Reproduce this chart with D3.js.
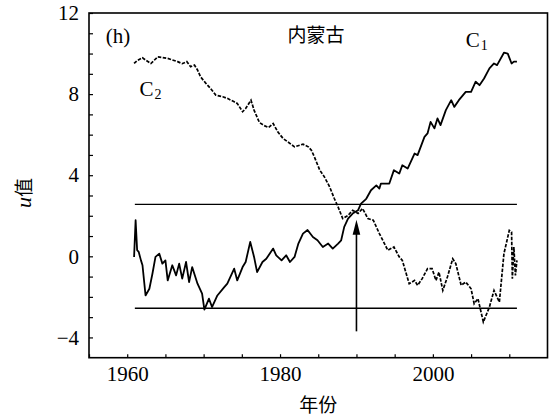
<!DOCTYPE html>
<html><head><meta charset="utf-8">
<script src="https://cdn.jsdelivr.net/npm/d3@7"></script>
<style>
body{margin:0;background:#fff;}
svg{display:block;}
text{fill:#000;}
.serif{font-family:'Liberation Serif','Times New Roman',Tinos,'Nimbus Roman',serif;}
.cjk{font-family:'Noto Sans CJK SC','Noto Sans CJK JP',sans-serif;}
</style></head>
<body>
<svg id="chart" width="555" height="419"></svg>
<script>
// ---- data ----
const c1Years = [1960.9,1961.1,1961.3,1961.5,1961.8,1962.0,1962.4,1962.9,1963.3,1963.7,1964.2,1964.6,1965.0,1965.3,1965.9,1966.4,1966.8,1967.2,1967.7,1968.1,1968.5,1969.2,1969.8,1970.1,1970.7,1971.1,1971.8,1972.7,1973.1,1974.0,1974.4,1975.1,1975.5,1976.1,1976.6,1977.0,1977.7,1978.2,1979.1,1979.5,1980.2,1980.8,1981.3,1981.9,1982.4,1983.0,1983.6,1984.3,1984.9,1985.6,1986.3,1986.9,1987.6,1988.0,1988.4,1988.9,1989.5,1990.2,1990.6,1991.1,1991.3,1991.9,1992.6,1993.0,1993.2,1994.3,1994.9,1995.6,1996.0,1996.7,1997.6,1998.0,1998.9,1999.3,1999.7,2000.2,2000.6,2001.0,2001.7,2002.4,2002.8,2003.4,2004.3,2005.0,2005.6,2006.1,2006.7,2007.4,2008.0,2008.4,2009.3,2009.8,2010.3,2010.6,2011.0];
const c1Values = [-0.03,1.78,0.30,0.22,-0.20,-0.44,-1.93,-1.60,-0.86,-0.03,0.13,-0.36,-0.20,-1.19,-0.44,-0.94,-0.36,-1.10,-0.28,-1.27,-0.53,-1.35,-1.84,-2.63,-2.09,-2.50,-1.93,-1.52,-1.35,-0.61,-1.19,-0.53,-0.28,0.71,-0.03,-0.78,-0.28,-0.12,0.38,0.05,-0.20,0.05,-0.28,-0.03,0.63,1.12,1.30,0.95,0.79,0.46,0.63,0.38,0.63,0.79,1.45,1.86,2.11,2.27,2.60,2.77,2.85,3.26,3.50,3.34,3.59,3.59,4.25,4.08,4.49,4.33,5.07,4.99,5.89,6.06,6.63,6.31,6.80,6.47,7.21,7.70,7.37,7.70,8.11,8.11,8.61,8.44,8.77,9.27,9.51,9.43,10.04,10.00,9.51,9.60,9.60];

const c2Years = [1960.9,1961.3,1962.0,1962.4,1963.1,1964.0,1965.3,1966.6,1967.2,1967.8,1968.3,1968.8,1969.2,1969.6,1970.3,1970.9,1971.6,1972.5,1973.1,1974.0,1974.4,1975.1,1975.5,1976.2,1976.6,1977.3,1977.9,1978.5,1979.1,1979.7,1980.4,1981.0,1981.9,1983.0,1983.7,1984.1,1984.5,1985.2,1985.8,1986.5,1987.1,1987.6,1988.2,1988.9,1989.5,1990.2,1990.8,1991.5,1992.2,1993.0,1994.1,1994.9,1995.6,1996.0,1996.9,1997.6,1998.0,1998.6,1999.3,1999.9,2000.4,2000.8,2001.3,2001.9,2002.6,2003.0,2003.7,2004.3,2005.0,2005.4,2005.9,2006.6,2007.4,2008.0,2008.7,2009.3,2010.0,2010.3,2010.4,2010.6,2010.8,2011.0];
const c2Values = [9.51,9.65,9.79,9.68,9.51,9.84,9.76,9.60,9.50,9.60,9.35,9.43,9.19,8.85,8.53,8.28,7.95,7.87,7.79,7.62,7.54,7.13,7.29,7.70,7.21,6.60,6.45,6.35,6.55,6.14,5.81,5.65,5.40,5.53,5.40,5.23,4.90,4.25,3.92,3.42,2.85,2.43,1.86,2.02,2.27,2.11,2.36,1.86,1.78,1.12,0.30,0.46,-0.03,-0.20,-1.35,-1.19,-1.43,-1.10,-0.61,-0.61,-1.19,-0.78,-1.68,-1.02,-0.12,-0.36,-1.43,-1.27,-1.60,-2.34,-2.09,-3.24,-2.50,-1.68,-2.26,0.13,1.28,1.20,-1.10,0.46,-0.94,-0.20];

const thresholdValues = [2.56, -2.56];
const thresholdYears = [1961, 2011];
const arrowYear = 1990, arrowFrom = -3.7, arrowTo = 1.8;
const xTickValues = [1955,1960,1965,1970,1975,1980,1985,1990,1995,2000,2005,2010];
const xTickLabels = [1960,1980,2000];
const yTickValues = [-4,-3,-2,-1,0,1,2,3,4,5,6,7,8,9,10,11,12];
const yTickLabels = [-4,0,4,8,12];

// ---- layout ----
const W = 555, H = 419;
const m = {left:89, top:13, right:7.5, bottom:61.3};
const iw = W - m.left - m.right, ih = H - m.top - m.bottom;
const svg = d3.select('#chart');
const g = svg.append('g').attr('transform', `translate(${m.left},${m.top})`);
const x = d3.scaleLinear().domain([1955,2015]).range([0,iw]);
const y = d3.scaleLinear().domain([-5,12]).range([ih,0]);

// axes (ticks inward)
const xa = g.append('g').attr('transform',`translate(0,${ih})`)
  .call(d3.axisBottom(x).tickValues(xTickValues).tickSize(-3.5).tickPadding(8)
    .tickFormat(d => xTickLabels.includes(d) ? String(d) : ''));
const ya = g.append('g')
  .call(d3.axisLeft(y).tickValues(yTickValues).tickSize(-4).tickPadding(10)
    .tickFormat(d => yTickLabels.includes(d) ? (d<0 ? '\u2212'+Math.abs(d) : String(d)) : ''));
[xa,ya].forEach(a => {
  a.attr('font-family', null).attr('font-size', null);
  a.select('.domain').remove();
  a.selectAll('line').attr('stroke','#000').attr('stroke-width',1.2);
  a.selectAll('text').attr('class','serif').style('font-size','21px').attr('fill','#000');
});

// frame
g.append('rect').attr('x',0).attr('y',0).attr('width',iw).attr('height',ih)
  .attr('fill','none').attr('stroke','#000').attr('stroke-width',1.6);

// threshold lines
thresholdValues.forEach(v => {
  g.append('line').attr('x1',x(thresholdYears[0])).attr('x2',x(thresholdYears[1]))
    .attr('y1',y(v)).attr('y2',y(v)).attr('stroke','#000').attr('stroke-width',1.4);
});

const line = d3.line().x(d=>x(d[0])).y(d=>y(d[1]));
g.append('path').datum(d3.zip(c1Years,c1Values)).attr('d',line)
  .attr('fill','none').attr('stroke','#000').attr('stroke-width',1.8).attr('stroke-linejoin','round');
g.append('path').datum(d3.zip(c2Years,c2Values)).attr('d',line)
  .attr('fill','none').attr('stroke','#000').attr('stroke-width',1.7).attr('stroke-dasharray','3.5,1.5');

// arrow
const ax = x(arrowYear), aTip = y(arrowTo), aBase = y(arrowFrom);
g.append('line').attr('x1',ax).attr('x2',ax).attr('y1',aBase).attr('y2',aTip+12)
  .attr('stroke','#000').attr('stroke-width',1.6);
g.append('path').attr('d',`M${ax},${aTip}L${ax-3.8},${aTip+15}L${ax+3.8},${aTip+15}Z`).attr('fill','#000');

// labels
g.append('text').attr('class','serif').attr('x',x(1957.2)).attr('y',y(10.5)).style('font-size','21px').text('(h)');
g.append('text').attr('class','cjk').attr('x',x(1984.7)).attr('y',y(10.55)).attr('text-anchor','middle').style('font-size','19px').text('内蒙古');
const c1t = g.append('text').attr('class','serif').attr('x',x(2004.3)).attr('y',y(10.3)).style('font-size','21px');
c1t.append('tspan').text('C');
c1t.append('tspan').style('font-size','14px').attr('dx',1).attr('dy',3).text('1');
const c2t = g.append('text').attr('class','serif').attr('x',x(1961.6)).attr('y',y(7.9)).style('font-size','21px');
c2t.append('tspan').text('C');
c2t.append('tspan').style('font-size','14px').attr('dx',1).attr('dy',3).text('2');

// axis titles
svg.append('text').attr('class','cjk').attr('x',m.left+iw/2).attr('y',412).attr('text-anchor','middle')
  .style('font-size','19px').text('年份');
const yl = svg.append('text').attr('transform','translate(31,193) rotate(-90)').attr('text-anchor','middle');
yl.append('tspan').attr('class','serif').style('font-style','italic').style('font-size','22px').text('u');
yl.append('tspan').attr('class','cjk').style('font-size','19px').text('值');
</script>
</body></html>
